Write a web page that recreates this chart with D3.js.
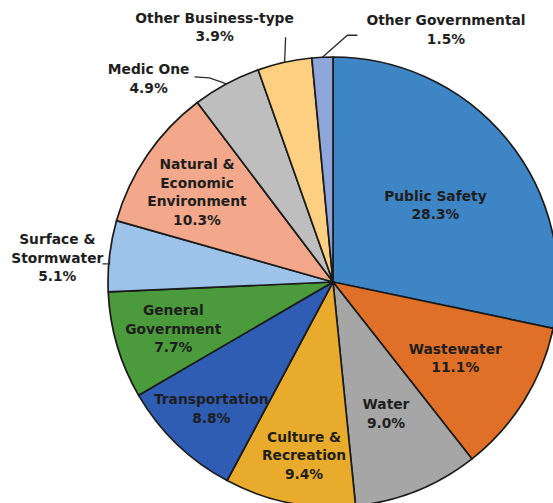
<!DOCTYPE html>
<html>
<head>
<meta charset="utf-8">
<script src="https://cdn.jsdelivr.net/npm/d3@7"></script>
<style>
  html, body { margin: 0; padding: 0; background: #fff; }
  svg { display: block; }
  .lbl { font-family: "DejaVu Sans", Verdana, sans-serif; font-weight: bold; font-size: 13.8px; fill: #1e1e1e; }
</style>
</head>
<body>
<svg id="chart" width="553" height="503"></svg>
<script>
// Share of spending by service area (percent), clockwise from 12 o'clock
const categories = [
  "Public Safety", "Wastewater", "Water", "Culture & Recreation", "Transportation",
  "General Government", "Surface & Stormwater", "Natural & Economic Environment",
  "Medic One", "Other Business-type", "Other Governmental"
];
const shares = [28.3, 11.1, 9.0, 9.4, 8.8, 7.7, 5.1, 10.3, 4.9, 3.9, 1.5];
const labelLines = [
  ["Public Safety"], ["Wastewater"], ["Water"], ["Culture &", "Recreation"], ["Transportation"],
  ["General", "Government"], ["Surface &", "Stormwater"], ["Natural &", "Economic", "Environment"],
  ["Medic One"], ["Other Business-type"], ["Other Governmental"]
];
const colors = [
  "#3e85c6", "#e06f27", "#a6a6a6", "#e9ab2c", "#2f5db4",
  "#4b9a3c", "#9ec3ea", "#f4a88b", "#bebebe", "#fdcf80", "#8fa6da"
];

// Label placement: radius factor and angle (degrees clockwise from top; null = slice middle)
const labelPlace = [
  { k: 0.57, a: 53 }, { k: 0.64, a: null }, { k: 0.63, a: null }, { k: 0.78, a: 189.5 },
  { k: 0.78, a: null }, { k: 0.74, a: null }, { k: 1.23, a: 275 }, { k: 0.725, a: 303.5 },
  { k: 1.22, a: 317.8 }, { k: 1.25, a: 335.1 }, { k: 1.23, a: 24.1 }
];

const svg = d3.select("#chart");
const cx = 333, cy = 282, R = 225;
const g = svg.append("g").attr("transform", `translate(${cx},${cy})`);

const data = categories.map((c, i) => ({ name: c, value: shares[i], i }));
const pie = d3.pie().value(d => d.value).sort(null);
const arcs = pie(data);
const arc = d3.arc().innerRadius(0).outerRadius(R);

g.selectAll("path.slice")
  .data(arcs)
  .join("path")
  .attr("class", "slice")
  .attr("d", arc)
  .attr("fill", d => colors[d.data.i])
  .attr("stroke", "#1b1b1b")
  .attr("stroke-width", 1.7)
  .attr("stroke-linejoin", "round");

const rad = deg => deg * Math.PI / 180;
const polar = (r, deg) => [r * Math.sin(rad(deg)), -r * Math.cos(rad(deg))];
const midDeg = d => ((d.startAngle + d.endAngle) / 2) * 180 / Math.PI;

// Leader lines for the slices labelled outside the pie
const leaders = {
  "Surface & Stormwater": d => {
    const e = polar(R, midDeg(d));
    return [[e[0] - 7, e[1] + 8], [e[0], e[1] + 8], e];
  },
  "Medic One": d => {
    const e = polar(R, midDeg(d));
    return [[e[0] - 32, e[1] - 7], [e[0] - 17, e[1] - 6], e];
  },
  "Other Business-type": d => {
    const e = polar(R, midDeg(d));
    return [[e[0] + 1, e[1] - 25], e];
  },
  "Other Governmental": d => {
    const e = polar(R, midDeg(d));
    return [[e[0] + 35, e[1] - 22], [e[0] + 25, e[1] - 22], e];
  }
};

const line = d3.line();
arcs.forEach(d => {
  const f = leaders[d.data.name];
  if (f) {
    g.append("path")
      .attr("d", line(f(d)))
      .attr("fill", "none")
      .attr("stroke", "#2a2a2a")
      .attr("stroke-width", 1.3);
  }
});

const lh = 18.5;
arcs.forEach(d => {
  const p = labelPlace[d.data.i];
  const ang = p.a === null ? midDeg(d) : p.a;
  const [x, y] = polar(R * p.k, ang);
  const lines = labelLines[d.data.i].concat([d3.format(".1f")(d.data.value) + "%"]);
  const n = lines.length;
  const t = g.append("text")
    .attr("class", "lbl")
    .attr("text-anchor", "middle")
    .attr("x", x)
    .attr("y", y - (n - 1) * lh / 2);
  lines.forEach((s, j) => {
    t.append("tspan").attr("x", x).attr("dy", j === 0 ? "0.36em" : lh).text(s);
  });
});
</script>
</body>
</html>
